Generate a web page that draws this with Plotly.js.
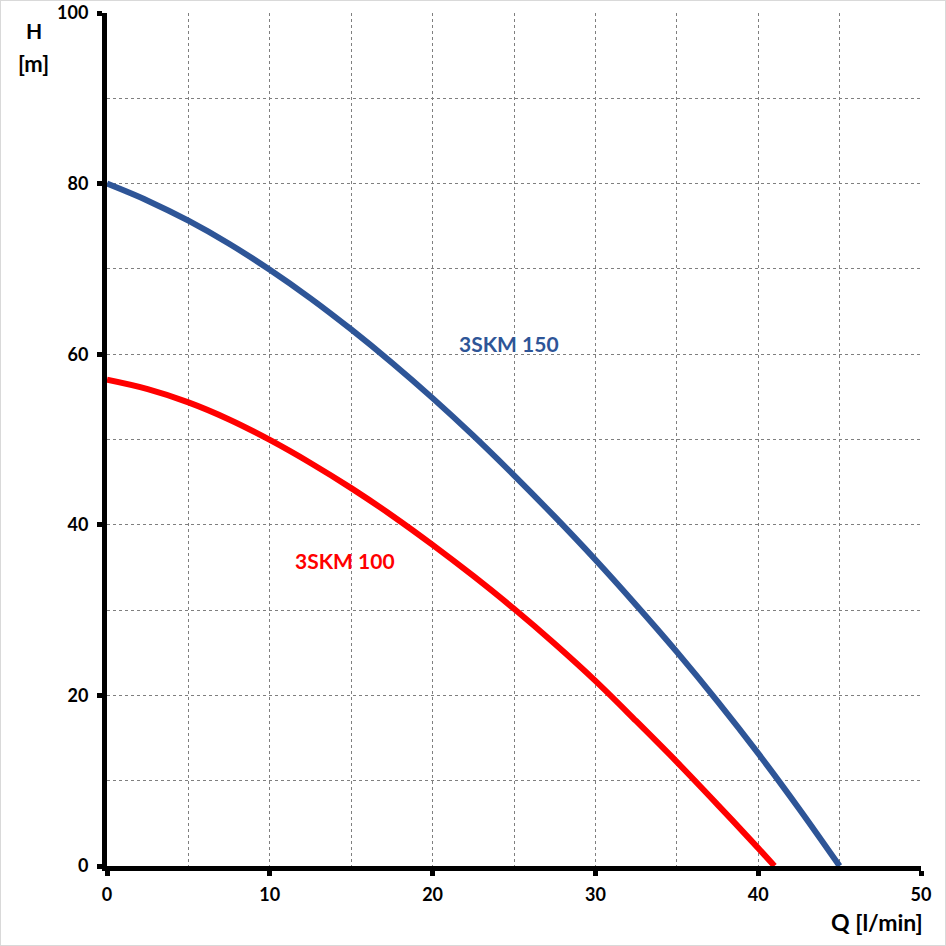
<!DOCTYPE html>
<html><head><meta charset="utf-8">
<script src="https://cdn.plot.ly/plotly-3.0.1.min.js"></script>
<style>html,body{margin:0;padding:0;background:#fff}#chart{width:944px;height:944px;border:1px solid #d9d9d9}</style>
</head><body><div id="chart"></div>
<script>
const qBlue = [0, 2.5, 5, 7.5, 10, 12.5, 15, 17.5, 20, 22.5, 25, 27.5, 30, 32.5, 35, 37.5, 40, 42.5, 45];
const hBlue = [80, 78, 75.65, 72.95, 69.9, 66.55, 62.9, 59.0, 54.85, 50.45, 45.8, 40.95, 35.9, 30.6, 25.1, 19.3, 13.2, 6.75, 0];
const qRed = [0, 2.5, 5, 7.5, 10, 12.5, 15, 17.5, 20, 22.5, 25, 27.5, 30, 32.5, 35, 37.5, 40, 41];
const hRed = [57, 55.9, 54.35, 52.35, 49.95, 47.25, 44.3, 41.1, 37.65, 34.0, 30.15, 26.05, 21.7, 17.0, 12.2, 7.2, 2.1, 0];
const blueName = "3SKM 150", redName = "3SKM 100";
const blueColor = "#2E5597", redColor = "#FF0000";
const font = "Lato, 'Open Sans', sans-serif";

const traces = [
  {x: qBlue, y: hBlue, mode: "lines", line: {color: blueColor, width: 6, shape: "spline", smoothing: 1}, name: blueName},
  {x: qRed, y: hRed, mode: "lines", line: {color: redColor, width: 6, shape: "spline", smoothing: 1}, name: redName}
];
const axisCommon = {
  showline: true, linecolor: "#000", linewidth: 5, zeroline: false,
  ticks: "outside", ticklen: 5, tickwidth: 5, tickcolor: "#000",
  showgrid: true, gridcolor: "#7f7f7f", griddash: "dot", gridwidth: 1,
  tickfont: {family: font, size: 18, color: "#000", weight: "bold"}
};
const layout = {
  width: 944, height: 944,
  margin: {l: 106, r: 24, t: 12, b: 79},
  paper_bgcolor: "#fff", plot_bgcolor: "#fff",
  showlegend: false,
  xaxis: Object.assign({}, axisCommon, {range: [0, 50], dtick: 10, tick0: 0, ticklabelstandoff: 3,
    minor: {dtick: 5, showgrid: true, gridcolor: "#7f7f7f", griddash: "dot", gridwidth: 1}}),
  yaxis: Object.assign({}, axisCommon, {range: [0, 100], dtick: 20, tick0: 0, ticklabelstandoff: 5,
    minor: {dtick: 10, showgrid: true, gridcolor: "#7f7f7f", griddash: "dot", gridwidth: 1}}),
  annotations: [
    {x: 24.7, y: 61.2, xref: "x", yref: "y", text: blueName, showarrow: false, xanchor: "center", yanchor: "middle",
     font: {family: font, size: 21, color: blueColor, weight: "bold"}},
    {x: 14.6, y: 35.8, xref: "x", yref: "y", text: redName, showarrow: false, xanchor: "center", yanchor: "middle",
     font: {family: font, size: 21, color: redColor, weight: "bold"}},
    {x: -0.0897, y: 0.980, xref: "paper", yref: "paper", text: "H", showarrow: false, xanchor: "center", yanchor: "middle",
     font: {family: font, size: 21, color: "#000", weight: "bold"}},
    {x: -0.0897, y: 0.941, xref: "paper", yref: "paper", text: "[m]", showarrow: false, xanchor: "center", yanchor: "middle",
     font: {family: font, size: 22, color: "#000", weight: "bold"}},
    {x: 1.005, y: -0.0657, xref: "paper", yref: "paper", xanchor: "right", yanchor: "middle", text: "Q [l/min]", showarrow: false,
     font: {family: font, size: 23, color: "#000", weight: "bold"}}
  ]
};
Plotly.newPlot("chart", traces, layout, {staticPlot: true, displayModeBar: false});
</script></body></html>
